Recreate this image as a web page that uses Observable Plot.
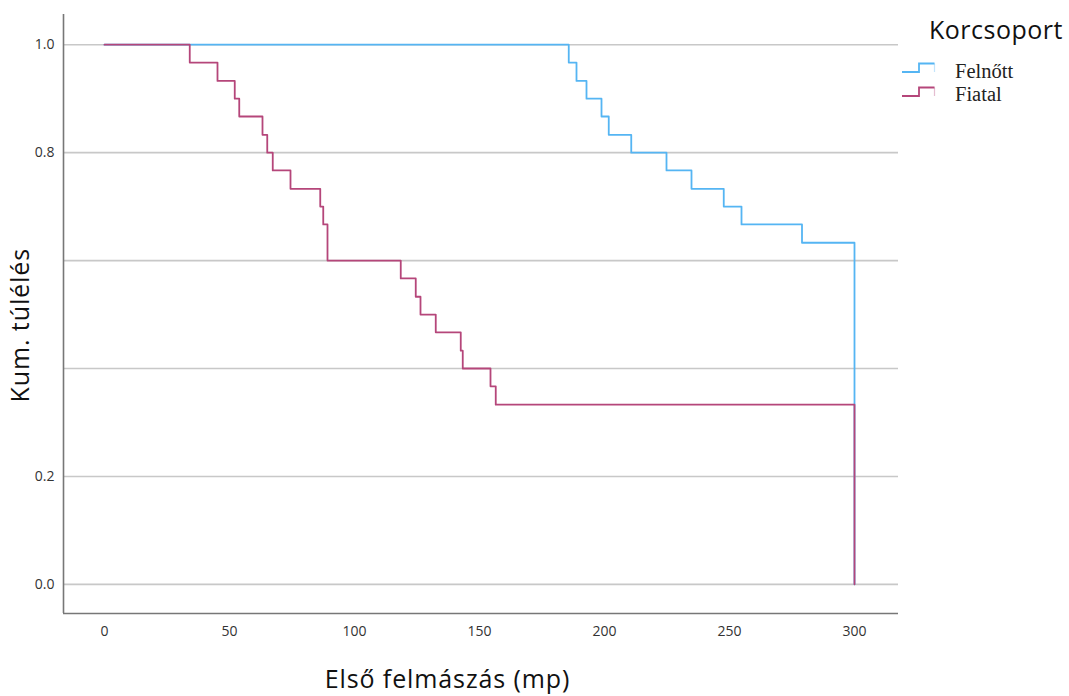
<!DOCTYPE html>
<html>
<head>
<meta charset="utf-8">
<script src="https://cdn.jsdelivr.net/npm/d3@7"></script>
<script src="https://cdn.jsdelivr.net/npm/@observablehq/plot@0.6"></script>
<style>
  html, body { margin: 0; padding: 0; background: #fff; }
  #wrap { position: relative; width: 1069px; height: 696px; }
  #legend { position: absolute; left: 0; top: 0; pointer-events: none; }
</style>
</head>
<body>
<div id="wrap"></div>
<script>
// ---- data ----
const groups = ["Felnőtt", "Fiatal"];
const colors = ["#55b5f3", "#b5467a"];

// Felnőtt: event times and survival after each step
const felnottTime = [0, 185.7, 188.8, 192.8, 198.8, 201.7, 210.7, 224.8, 234.8, 247.7, 254.8, 279.0, 300];
const felnottSurv = [1, 0.967, 0.933, 0.9, 0.867, 0.833, 0.8, 0.767, 0.733, 0.7, 0.667, 0.633, 0];

// Fiatal
const fiatalTime = [0, 34.1, 45.2, 52.1, 53.9, 63.2, 65.1, 67.3, 74.4, 86.3, 87.5, 89.2, 118.5, 124.5, 126.4, 132.5, 142.5, 143.3, 154.4, 156.5, 300];
const fiatalSurv = [1, 0.967, 0.933, 0.9, 0.867, 0.833, 0.8, 0.767, 0.733, 0.7, 0.667, 0.6, 0.567, 0.533, 0.5, 0.467, 0.433, 0.4, 0.367, 0.333, 0];

const xTicks = [0, 50, 100, 150, 200, 250, 300];
const yGrid = [0, 0.2, 0.4, 0.6, 0.8, 1.0];
const yTickLabels = [0, 0.2, 0.8, 1.0];

const xTitle = "Első felmászás (mp)";
const yTitle = "Kum. túlélés";
const legendTitle = "Korcsoport";

// ---- build tables ----
const felnott = d3.zip(felnottTime, felnottSurv).map(([t, s]) => ({t, s, g: groups[0]}));
const fiatal = d3.zip(fiatalTime, fiatalSurv).map(([t, s]) => ({t, s, g: groups[1]}));

const xDomain = [-16.4, 317.6];
const yDomain = [-0.054, 1.056];

const sans = "'Open Sans', 'DejaVu Sans', sans-serif";

const chart = Plot.plot({
  width: 1069,
  height: 696,
  marginLeft: 63,
  marginRight: 171,
  marginTop: 14,
  marginBottom: 83,
  style: { fontFamily: sans, fontSize: "14px", color: "#333", background: "#fff" },
  x: { domain: xDomain },
  y: { domain: yDomain },
  marks: [
    Plot.ruleY(yGrid, { stroke: "#c8c8c8", strokeWidth: 1.6 }),
    Plot.ruleX([xDomain[0]], { y1: yDomain[0], y2: yDomain[1], stroke: "#777", strokeWidth: 1.6 }),
    Plot.ruleY([yDomain[0]], { stroke: "#777", strokeWidth: 1.6 }),
    Plot.axisY(yTickLabels, { tickSize: 0, tickPadding: 9, tickFormat: d3.format(".1f"), label: null, fontSize: 14 }),
    Plot.axisX(xTicks, { tickSize: 0, tickPadding: 13, label: null, fontSize: 14 }),
    Plot.line(felnott, { x: "t", y: "s", curve: "step-after", stroke: colors[0], strokeWidth: 1.8 }),
    Plot.line(fiatal, { x: "t", y: "s", curve: "step-after", stroke: colors[1], strokeWidth: 1.8 }),
    Plot.text([xTitle], { text: d => d, frameAnchor: "bottom", dx: -33.5, dy: 74, fontSize: 25, fill: "#111" }),
    Plot.text([yTitle], { text: d => d, frameAnchor: "left", rotate: -90, dx: -43, dy: 88.5, fontSize: 25, fill: "#111" })
  ]
});

d3.select(chart).selectAll("text")
  .filter(function() { return this.textContent === xTitle || this.textContent === yTitle; })
  .attr("letter-spacing", 0.9);

const wrap = document.getElementById("wrap");
wrap.appendChild(chart);

// ---- legend overlay ----
const lg = d3.select(wrap).append("svg")
  .attr("id", "legend")
  .attr("width", 1069)
  .attr("height", 120);

lg.append("text")
  .attr("x", 929).attr("y", 39)
  .attr("font-family", sans).attr("font-size", 25)
  .attr("letter-spacing", 0.5)
  .attr("fill", "#111")
  .text(legendTitle);

const rowsY = [72, 96];
const labelY = [77.5, 100.5];
groups.forEach((g, i) => {
  const yl = rowsY[i], yh = rowsY[i] - 8.5;
  lg.append("path")
    .attr("d", `M902,${yl}H919V${yh}H934.5`)
    .attr("fill", "none").attr("stroke", colors[i]).attr("stroke-width", 1.8);
  lg.append("path")
    .attr("d", `M934.5,${yh}V${yl}`)
    .attr("fill", "none").attr("stroke", colors[i]).attr("stroke-width", 1.2).attr("opacity", 0.35);
  lg.append("text")
    .attr("x", 955).attr("y", labelY[i])
    .attr("font-family", "'Liberation Serif', 'Times New Roman', serif")
    .attr("font-size", 20.5)
    .attr("fill", "#222")
    .text(g);
});
</script>
</body>
</html>
